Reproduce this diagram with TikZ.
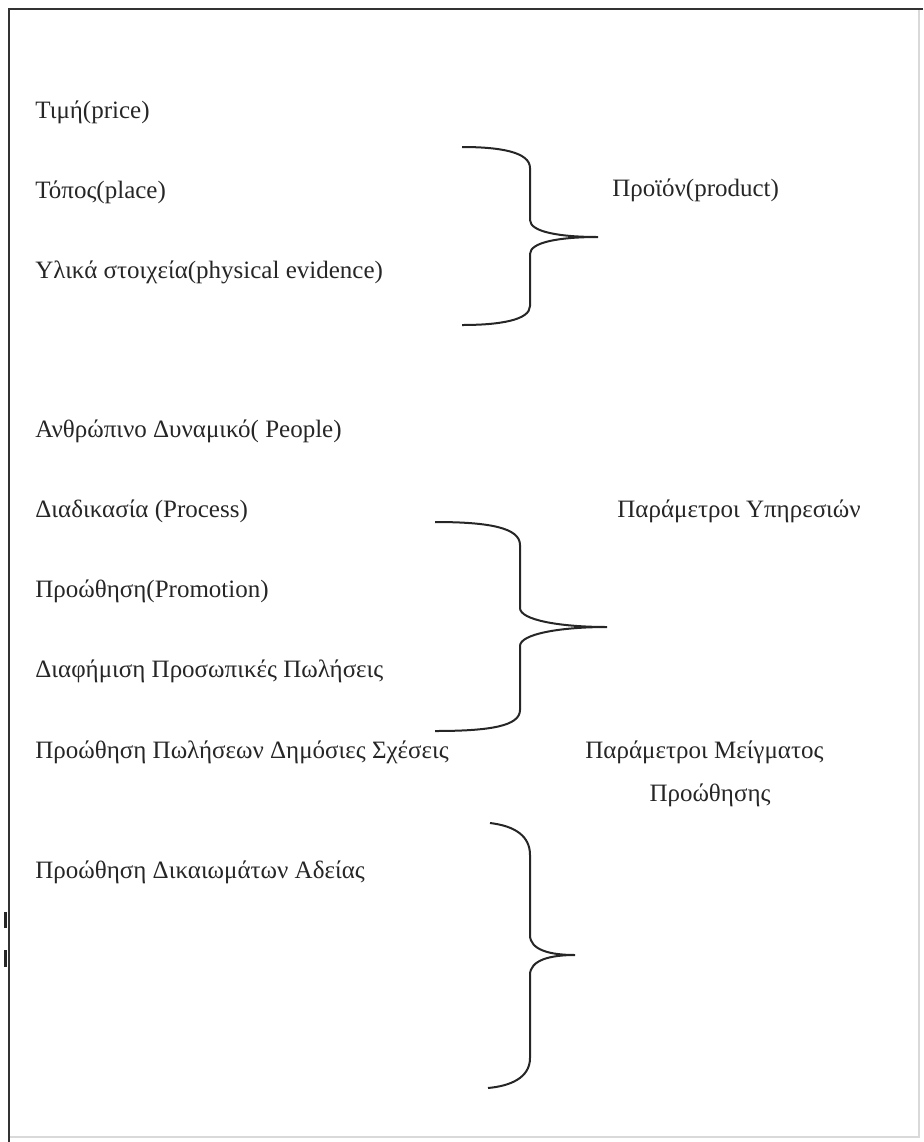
\documentclass[tikz,border=0pt]{standalone}
\usepackage{fontspec}
\setmainfont{Liberation Serif}
\begin{document}
\begin{tikzpicture}[x=0.5pt, y=-0.5pt, font=\fontsize{12.5}{15}\selectfont,
    item/.style={anchor=west, inner sep=0pt, text=black!85},
    curly/.style={line width=1pt, black!85}]
        \useasboundingbox (0, 0) rectangle (923, 1142);

        % Frame
        \draw[black!15, line width=0.6pt] (919, 9) -- (919, 1137) -- (9, 1137);
        \draw[black!80, line width=1.4pt] (923, 9) -- (9, 9) -- (9, 1142);
        \draw[black!85, line width=1.5pt] (5, 912) -- (5, 928);
        \draw[black!85, line width=1.5pt] (5, 950) -- (5, 967);

        % First group
        \node[item] (price) at (35, 112) {Τιμή(price)};
        \node[item] (place) at (35, 192) {Τόπος(place)};
        \node[item] (evid) at (35, 272) {Υλικά στοιχεία(physical evidence)};
        \node[item] (product) at (612, 190) {Προϊόν(product)};

        % Second group
        \node[item] (people) at (35, 431) {Ανθρώπινο Δυναμικό( People)};
        \node[item] (process) at (35, 511) {Διαδικασία (Process)};
        \node[item] (promo) at (35, 591) {Προώθηση(Promotion)};
        \node[item] (adv) at (35, 671) {Διαφήμιση Προσωπικές Πωλήσεις};
        \node[item] (services) at (617, 511) {Παράμετροι Υπηρεσιών};

        % Third group
        \node[item] (sales) at (35, 752) {Προώθηση Πωλήσεων Δημόσιες Σχέσεις};
        \node[item] (mix) at (585, 752) {Παράμετροι Μείγματος};
        \node[anchor=center, inner sep=0pt, text=black!85] (mix2) at (710, 795) {Προώθησης};
        \node[item] (rights) at (35, 872) {Προώθηση Δικαιωμάτων Αδείας};

        % Braces
        \draw[curly] (462, 147) .. controls (500, 147) and (530, 152) .. (530, 168)
            -- (530, 220) .. controls (530, 232) and (560, 237) .. (598, 237)
            .. controls (560, 237) and (530, 242) .. (530, 254)
            -- (530, 306) .. controls (530, 320) and (500, 325) .. (462, 325);
        \draw[curly] (435, 522) .. controls (490, 522) and (520, 528) .. (520, 545)
            -- (520, 608) .. controls (520, 620) and (560, 627) .. (607, 627)
            .. controls (560, 627) and (520, 634) .. (520, 646)
            -- (520, 710) .. controls (520, 726) and (490, 731) .. (435, 731);
        \draw[curly] (490, 823) .. controls (515, 826) and (530, 836) .. (530, 855)
            -- (530, 935) .. controls (530, 950) and (550, 955) .. (575, 955)
            .. controls (550, 955) and (530, 960) .. (530, 975)
            -- (530, 1058) .. controls (530, 1078) and (510, 1086) .. (488, 1088);
    \end{tikzpicture}
\end{document}
